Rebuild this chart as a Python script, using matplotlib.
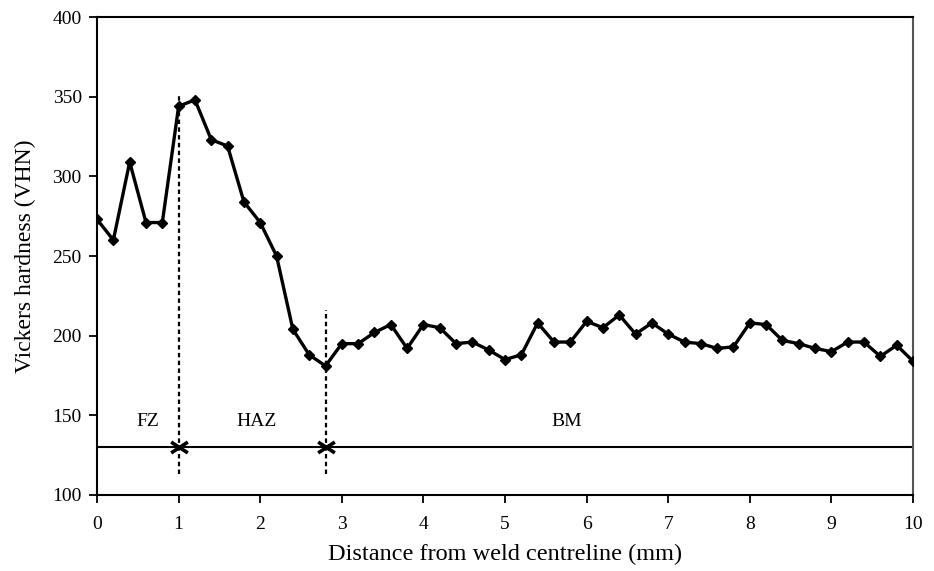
import matplotlib
matplotlib.use("Agg")
import matplotlib.pyplot as plt
from matplotlib.path import Path
import numpy as np

distance = [0.0, 0.2, 0.4, 0.6, 0.8, 1.0, 1.2, 1.4, 1.6, 1.8, 2.0, 2.2, 2.4, 2.6, 2.8,
            3.0, 3.2, 3.4, 3.6, 3.8, 4.0, 4.2, 4.4, 4.6, 4.8, 5.0, 5.2, 5.4, 5.6, 5.8,
            6.0, 6.2, 6.4, 6.6, 6.8, 7.0, 7.2, 7.4, 7.6, 7.8, 8.0, 8.2, 8.4, 8.6, 8.8,
            9.0, 9.2, 9.4, 9.6, 9.8, 10.0]
hardness = [273, 260, 309, 271, 271, 344, 348, 323, 319, 284, 271, 250, 204, 188, 181,
            195, 195, 202, 207, 192, 207, 205, 195, 196, 191, 185, 188, 208, 196, 196,
            209, 205, 213, 201, 208, 201, 196, 195, 192, 193, 208, 207, 197, 195, 192,
            190, 196, 196, 187, 194, 184]

zone_bounds = [0.0, 1.0, 2.8, 10.0]
zone_labels = ["FZ", "HAZ", "BM"]
zone_label_x = [0.62, 1.95, 5.75]
zone_label_y = 146
zone_line_y = 130
divider_x = [1.0, 2.8]
divider_top = [352, 216]
divider_bottom = 113

plt.rcParams['font.family'] = ['Liberation Serif', 'DejaVu Serif']

fig = plt.figure(figsize=(9.34, 5.71), dpi=100)
ax = fig.add_axes([0.1039, 0.1331, 0.8736, 0.8371])

ax.plot(distance, hardness, color='black', lw=2.4, marker='D', ms=5, zorder=3)

for x, top in zip(divider_x, divider_top):
    ax.plot([x, x], [divider_bottom, top], color='black', lw=1.6, ls=(0, (2, 1.5)), zorder=2)

# zone line with "><" arrow heads meeting at zone boundaries
ax.plot([zone_bounds[0], zone_bounds[-1]], [zone_line_y, zone_line_y], color='black', lw=1.5, zorder=2)
arrow_meet = Path([(-1, 0.65), (0, 0), (-1, -0.65), (1, 0.65), (0, 0), (1, -0.65)],
                  [Path.MOVETO, Path.LINETO, Path.LINETO, Path.MOVETO, Path.LINETO, Path.LINETO])
for x in divider_x:
    ax.plot([x], [zone_line_y], marker=arrow_meet, ms=12, mew=2.6, color='black',
            mfc='none', zorder=3)

for lab, lx in zip(zone_labels, zone_label_x):
    ax.text(lx, zone_label_y, lab, ha='center', va='center', fontsize=14)

ax.set_xlim(0, 10)
ax.set_ylim(100, 400)
ax.set_xticks(np.arange(0, 11, 1))
ax.set_yticks(np.arange(100, 401, 50))
ax.tick_params(direction='out', length=6, width=1.3, labelsize=14)
ax.tick_params(axis='x', pad=9)
ax.tick_params(axis='y', pad=5)
ax.set_xlabel("Distance from weld centreline (mm)", fontsize=17.5, labelpad=8)
ax.set_ylabel("Vickers hardness (VHN)", fontsize=17, labelpad=12)
for s in ['left', 'bottom', 'top']:
    ax.spines[s].set_linewidth(1.5)
ax.spines['right'].set_color('#555555')
ax.spines['right'].set_linewidth(1.5)

fig.savefig("out.png", dpi=100)
